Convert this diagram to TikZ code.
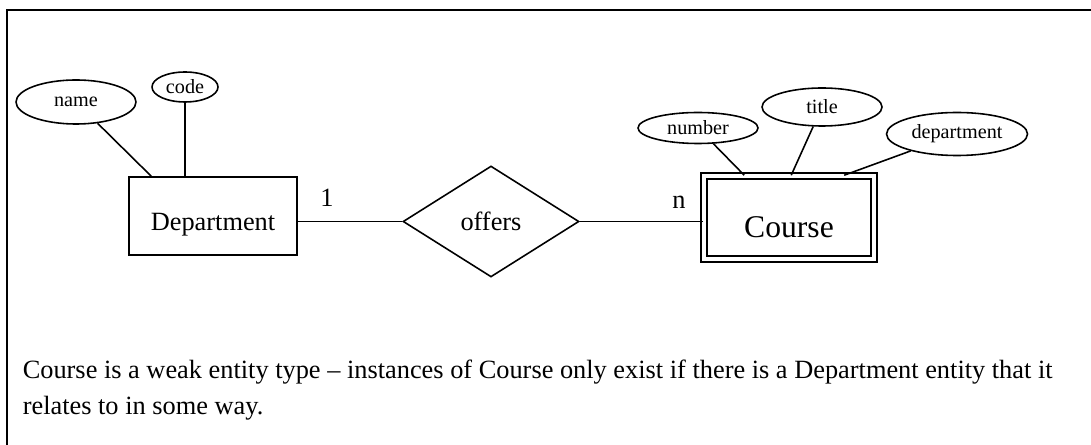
\documentclass[tikz,border=0pt]{standalone}
\usepackage{fontspec}
\setmainfont{Liberation Serif}
\usetikzlibrary{shapes.geometric}

\tikzset{
  attr/.style={draw, ellipse, inner sep=0pt, font=\fontsize{11.5}{13}\selectfont},
  entity/.style={draw, rectangle, inner sep=0pt, font=\fontsize{15}{17}\selectfont},
  rel/.style={draw, diamond, inner sep=0pt, font=\fontsize{15}{17}\selectfont},
  card/.style={font=\fontsize{15}{17}\selectfont}
}

\begin{document}
\begin{tikzpicture}[x=0.02cm, y=-0.02cm, line width=0.9pt]
                \useasboundingbox (0,0) rectangle (1091,445);
                \draw (7,445) -- (7,10) -- (1091,10);
                \node[attr, minimum width=2.4cm, minimum height=0.88cm] (name) at (76,102) {name};
                \node[attr, minimum width=1.32cm, minimum height=0.6cm] (code) at (185,87) {code};
                \node[entity, minimum width=3.36cm, minimum height=1.56cm, text height=0.68cm] (dept) at (213,216) {Department};
                \node[rel, minimum width=3.52cm, minimum height=2.22cm] (offers) at (491,221.5) {offers};
                \node[entity, double, double distance=2.4pt, minimum width=3.4cm, minimum height=1.66cm,
                      text height=0.82cm, font=\fontsize{18}{20}\selectfont] (course) at (789,217.5) {Course};
                \node[attr, minimum width=2.4cm, minimum height=0.62cm] (number) at (698,128) {number};
                \node[attr, minimum width=2.4cm, minimum height=0.76cm] (title) at (822,107) {title};
                \node[attr, minimum width=2.82cm, minimum height=0.86cm] (department) at (957,134) {department};
                \draw (name) -- ([xshift=0.46cm]dept.north west);
                \draw (code) -- (code |- dept.north);
                \draw (dept.east |- offers) -- (offers);
                \draw (offers) -- (offers -| course.west);
                \draw (number) -- ([xshift=0.82cm]course.north west);
                \draw (title) -- ([xshift=1.76cm]course.north west);
                \draw (department) -- ([xshift=2.82cm]course.north west);
                \node[card] (one) at (327,198) {1};
                \node[card] (many) at (679,202) {n};
                \node[anchor=west, align=left, inner sep=0pt, font=\fontsize{15}{20.4}\selectfont] (note) at (22,390)
                  {Course is a weak entity type -- instances of Course only exist if there is a Department entity that it\\
                   relates to in some way.};
            \end{tikzpicture}
\end{document}
